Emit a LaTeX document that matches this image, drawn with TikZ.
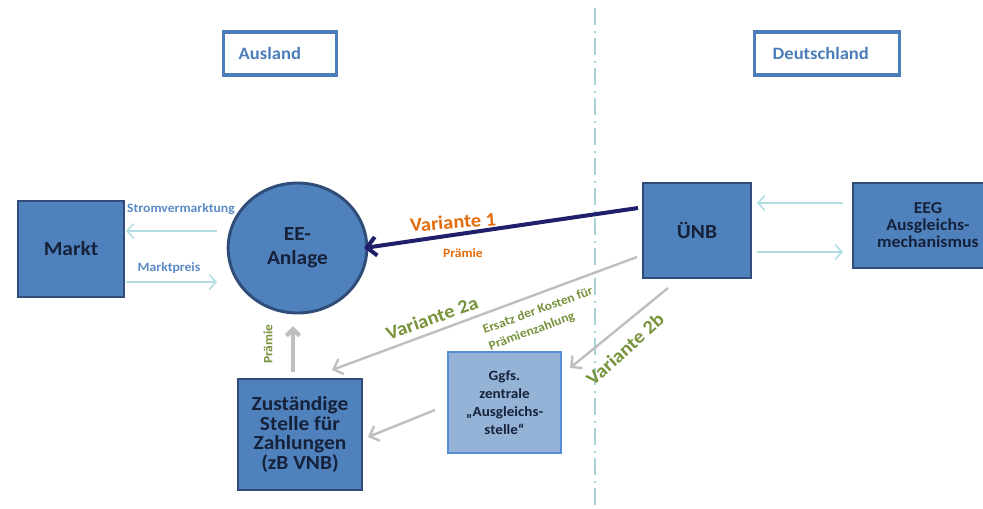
\documentclass[tikz,border=0pt]{standalone}
\usepackage{fontspec}
\setmainfont{Carlito}[FakeStretch=1.07]
\usetikzlibrary{shapes.geometric,arrows.meta}
\definecolor{boxfill}{HTML}{4F81BD}
\definecolor{boxedge}{HTML}{2F4D78}
\definecolor{boxtext}{HTML}{16213A}
\definecolor{lightfill}{HTML}{95B3D7}
\definecolor{lightedge}{HTML}{558ED5}
\definecolor{headblue}{HTML}{4A7DBA}
\definecolor{tealarrow}{HTML}{B3DDE5}
\definecolor{navyarrow}{HTML}{1F1F6B}
\definecolor{grayarrow}{HTML}{BFBFBF}
\definecolor{orangetxt}{HTML}{E46C0A}
\definecolor{greentxt}{HTML}{77933C}
\definecolor{labelblue}{HTML}{5B8BC6}
\definecolor{dividerline}{HTML}{A9D2D8}
\tikzset{
  mainbox/.style={draw=boxedge, line width=2.2pt, fill=boxfill, text=boxtext,
    font=\fontsize{15}{14.6}\selectfont\bfseries, align=center, inner sep=0pt},
  headbox/.style={draw=headblue, line width=2.6pt, fill=white, text=headblue,
    font=\fontsize{13}{15}\selectfont\bfseries, align=left, inner ysep=0pt, anchor=west},
  tealarr/.style={draw=tealarrow, line width=1.2pt, -{Straight Barb[length=5pt,width=11pt]}},
  grayarr/.style={draw=grayarrow, line width=1.8pt, -{Straight Barb[length=6pt,width=12pt]}},
  thickgray/.style={draw=grayarrow, line width=3.2pt, -{Straight Barb[length=5pt,width=10pt]}},
  navyarr/.style={draw=navyarrow, line width=3pt, -{Straight Barb[length=7pt,width=14pt]}},
  bluelbl/.style={text=labelblue, font=\fontsize{9.6}{11}\selectfont\bfseries, inner sep=0pt},
  varorange/.style={text=orangetxt, font=\fontsize{14.3}{16}\selectfont\bfseries, inner sep=0pt},
  vargreen/.style={text=greentxt, font=\fontsize{14.3}{16}\selectfont\bfseries, inner sep=0pt},
  smallorange/.style={text=orangetxt, font=\fontsize{9.5}{11}\selectfont\bfseries, inner sep=0pt},
  smallgreen/.style={text=greentxt, font=\fontsize{9.5}{13}\selectfont\bfseries, inner sep=0pt},
}
\begin{document}
\begin{tikzpicture}[x=0.75pt,y=-0.75pt]
\useasboundingbox (0,0) rectangle (983,508);
\clip (0,0) rectangle (983,508);
\fill[white] (0,0) rectangle (983,508);

% divider
\coordinate (divtop) at (595,8);
\coordinate (divbot) at (595,510);
\draw[dividerline, line width=1.2pt, dash pattern=on 13pt off 4pt on 1.5pt off 4pt] (divtop) -- (divbot);

% header boxes
\node[headbox, text width=62.25pt, inner xsep=11.25pt, minimum height=32.25pt] (ausland) at (222,53.5) {Ausland};
\node[headbox, text width=81.75pt, inner xsep=13.5pt, minimum height=32.25pt] (deutschland) at (753,53.5) {Deutschland};

% main nodes
\node[mainbox, minimum width=79.5pt, minimum height=72pt] (markt) at (71,249) {Markt};
\node[mainbox, ellipse, minimum width=104pt, minimum height=97.5pt,
  font=\fontsize{15}{18}\selectfont\bfseries] (ee) at (297.5,248) {EE-\\Anlage};
\node[mainbox, minimum width=81pt, minimum height=71.25pt] (uenb) at (697,230.5) {ÜNB};
\node[mainbox, minimum width=112.5pt, minimum height=63.75pt,
  font=\fontsize{12.5}{12.75}\selectfont\bfseries] (eeg) at (928,225.5) {EEG\\Ausgleichs-\\mechanismus};
\node[mainbox, minimum width=93pt, minimum height=83.25pt] (zust) at (300,434.5) {Zuständige\\Stelle für\\Zahlungen\\(zB VNB)};
\node[mainbox, draw=lightedge, fill=lightfill, minimum width=84.75pt, minimum height=75.75pt,
  font=\fontsize{10.6}{13.5}\selectfont\bfseries] (ggfs) at (504.5,402.5) {Ggfs.\\zentrale\\„Ausgleichs-\\stelle“};

% connector end points
\coordinate (svA) at (217,231);  \coordinate (svB) at (126,231);
\coordinate (mpA) at (126,282);  \coordinate (mpB) at (217,282);
\coordinate (egA) at (843,203);  \coordinate (egB) at (757,203);
\coordinate (ugA) at (757,252);  \coordinate (ugB) at (843,252);
\coordinate (v1A) at (638,208);  \coordinate (v1B) at (364,248);
\coordinate (v2aA) at (637,257); \coordinate (v2aB) at (332,370);
\coordinate (v2bA) at (668,288); \coordinate (v2bB) at (570,368);
\coordinate (ggA) at (435,410);  \coordinate (ggB) at (368,437);
\coordinate (zuA) at (293,372);  \coordinate (zuB) at (293,326);

% connectors
\draw[tealarr] (svA) -- (svB);
\draw[tealarr] (mpA) -- (mpB);
\draw[tealarr] (egA) -- (egB);
\draw[tealarr] (ugA) -- (ugB);
\draw[grayarr] (v2aA) -- (v2aB);
\draw[grayarr] (v2bA) -- (v2bB);
\draw[grayarr] (ggA) -- (ggB);
\draw[thickgray] (zuA) -- (zuB);
\draw[navyarr] (v1A) -- (v1B);

% labels
\node[bluelbl] (lsv) at (181,209) {Stromvermarktung};
\node[bluelbl] (lmp) at (169,268) {Marktpreis};
\node[varorange, rotate=4.3] (lv1) at (453,222) {Variante 1};
\node[smallorange] (lp1) at (463,253) {Prämie};
\node[vargreen, rotate=19.6] (lv2a) at (432,318) {Variante 2a};
\node[smallgreen, rotate=20, align=left] (lersatz) at (541,319) {Ersatz der Kosten für\\Prämienzahlung};
\node[vargreen, rotate=42] (lv2b) at (625,349) {Variante 2b};
\node[smallgreen, rotate=90] (lp2) at (268,344) {Prämie};
\end{tikzpicture}
\end{document}
